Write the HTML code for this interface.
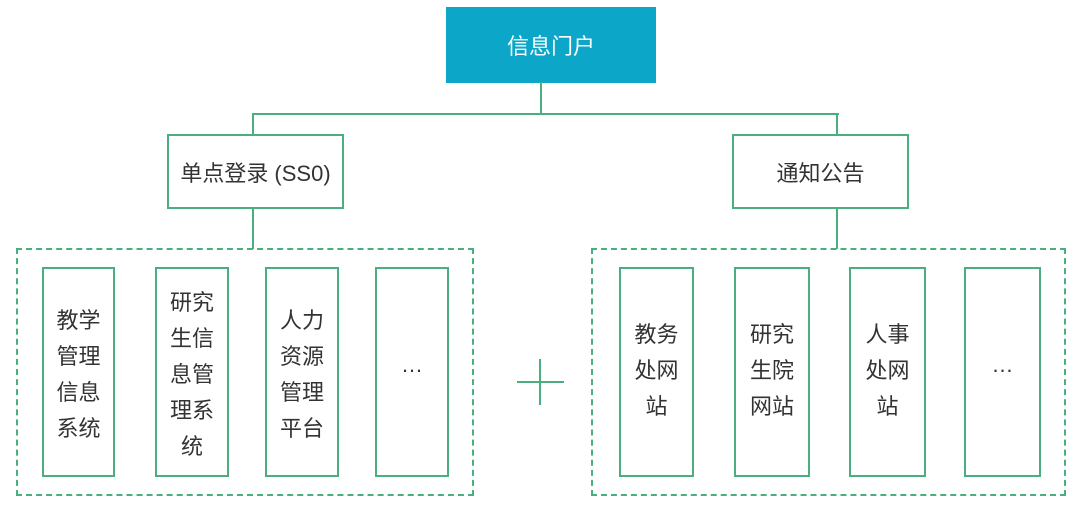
<!DOCTYPE html>
<html><head><meta charset="utf-8"><style>
body{margin:0;width:1090px;height:517px;background:#fff;position:relative;overflow:hidden;font-family:"Liberation Sans","Noto Sans CJK SC",sans-serif;color:#333}
.b{position:absolute;box-sizing:border-box;border:2px solid #4aae7e;display:flex;align-items:center;justify-content:center;text-align:center;font-size:22px;background:#fff}
.v{font-size:22px;line-height:36px;width:46px;margin-top:6px}
.e{margin-top:-14px}
.d{position:absolute;box-sizing:border-box;border:2px dashed #4aae7e}
.l{position:absolute;background:#4aae7e}
</style></head><body>
<div class="b" style="left:446px;top:7px;width:210px;height:76px;background:#0ca6c8;border-color:#0ca6c8;color:#fff;font-size:22px">信息门户</div>
<div class="l" style="left:540px;top:82px;width:2px;height:33px"></div>
<div class="l" style="left:252px;top:113px;width:587px;height:2px"></div>
<div class="l" style="left:252px;top:113px;width:2px;height:22px"></div>
<div class="l" style="left:836px;top:113px;width:2px;height:22px"></div>
<div class="b" style="left:167px;top:134px;width:177px;height:75px">单点登录 (SS0)</div>
<div class="b" style="left:732px;top:134px;width:177px;height:75px">通知公告</div>
<div class="l" style="left:252px;top:208px;width:2px;height:41px"></div>
<div class="l" style="left:836px;top:208px;width:2px;height:41px"></div>
<div class="d" style="left:16px;top:248px;width:458px;height:248px"></div>
<div class="d" style="left:591px;top:248px;width:475px;height:248px"></div>
<div class="b" style="left:42px;top:267px;width:73px;height:210px"><div class="v">教学管理信息系统</div></div>
<div class="b" style="left:155px;top:267px;width:74px;height:210px"><div class="v">研究生信息管理系统</div></div>
<div class="b" style="left:265px;top:267px;width:74px;height:210px"><div class="v">人力资源管理平台</div></div>
<div class="b" style="left:375px;top:267px;width:74px;height:210px"><span class="e">…</span></div>
<div class="l" style="left:517px;top:381px;width:47px;height:2px"></div>
<div class="l" style="left:539px;top:359px;width:2px;height:46px"></div>
<div class="b" style="left:619px;top:267px;width:75px;height:210px"><div class="v" style="margin-top:-2px">教务处网站</div></div>
<div class="b" style="left:734px;top:267px;width:76px;height:210px"><div class="v" style="margin-top:-2px">研究生院网站</div></div>
<div class="b" style="left:849px;top:267px;width:77px;height:210px"><div class="v" style="margin-top:-2px">人事处网站</div></div>
<div class="b" style="left:964px;top:267px;width:77px;height:210px"><span class="e">…</span></div>
</body></html>
